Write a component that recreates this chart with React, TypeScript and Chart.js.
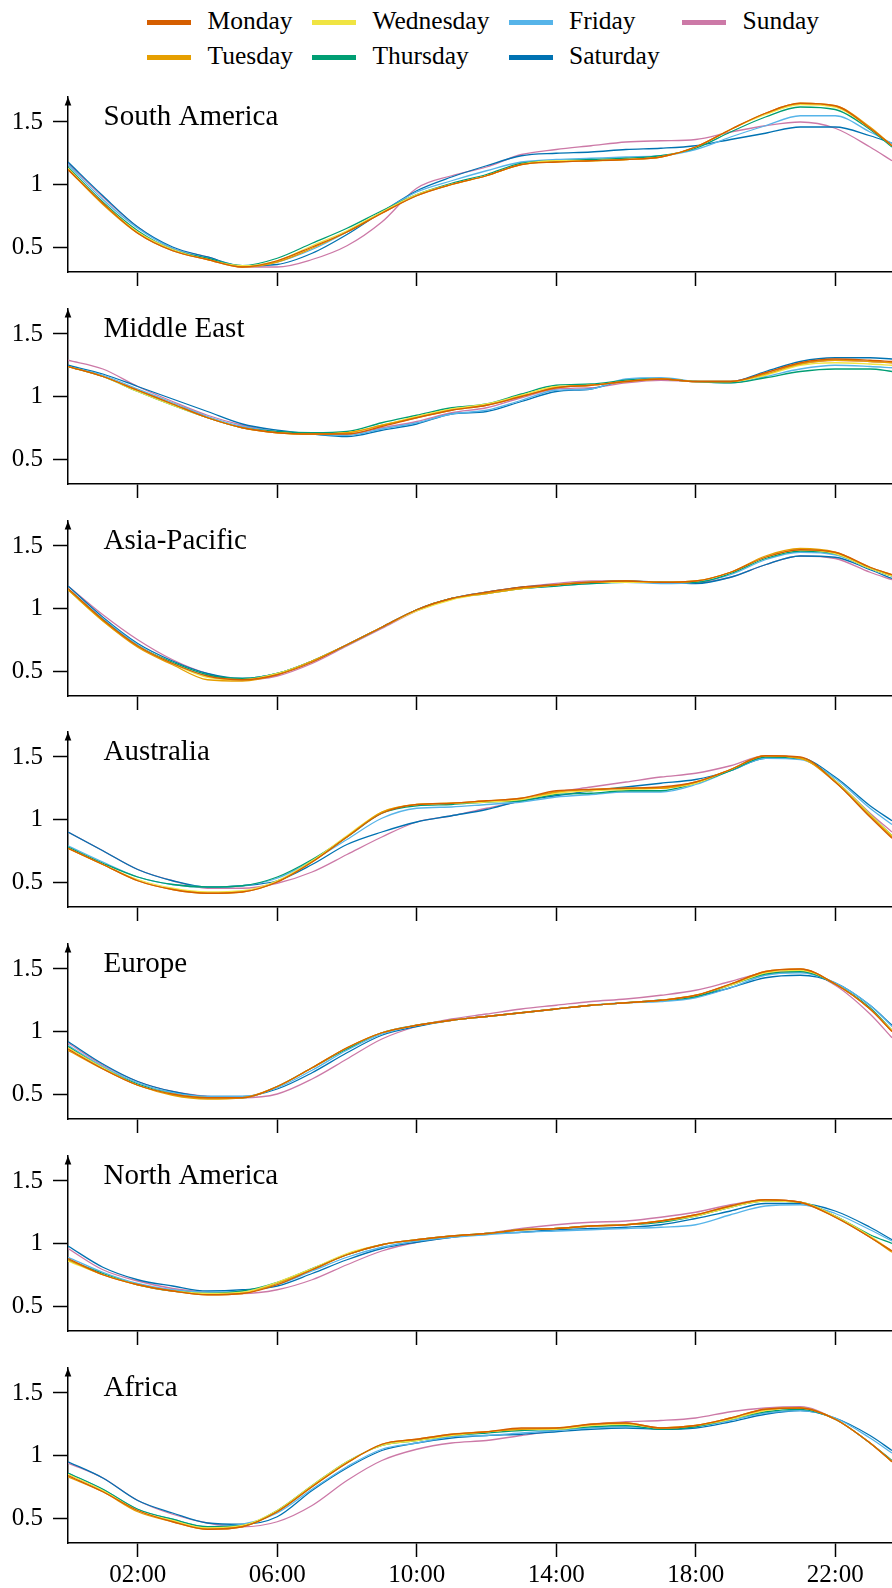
import React, { useEffect, useRef } from "react";
import { Chart, registerables } from "chart.js";

Chart.register(...registerables);

// ---------- data ----------
const DAYS = ["Monday", "Tuesday", "Wednesday", "Thursday", "Friday", "Saturday", "Sunday"];
const COLORS = ["#D55E00", "#E69F00", "#F0E442", "#009E73", "#56B4E9", "#0072B2", "#CC79A7"];
const REGIONS = ["South America", "Middle East", "Asia-Pacific", "Australia", "Europe", "North America", "Africa"];

const HOURS = [0, 1, 2, 3, 4, 5, 6, 7, 8, 9, 10, 11, 12, 13, 14, 15, 16, 17, 18, 19, 20, 21, 22, 23, 23.63];
const X_MAX = 23.63;
const X_TICKS = [2, 6, 10, 14, 18, 22];
const X_TICK_LABELS = ["02:00", "06:00", "10:00", "14:00", "18:00", "22:00"];
const Y_MIN = 0.3;
const Y_MAX = 1.7;
const Y_TICKS = [0.5, 1, 1.5];
const Y_TICK_LABELS = ["0.5", "1", "1.5"];

// South America
const SA_MON = [1.12, 0.85, 0.61, 0.47, 0.40, 0.34, 0.39, 0.50, 0.62, 0.77, 0.91, 1.00, 1.07, 1.16, 1.18, 1.19, 1.20, 1.22, 1.30, 1.44, 1.57, 1.65, 1.63, 1.45, 1.31];
const SA_TUE = [1.12, 0.84, 0.61, 0.47, 0.40, 0.34, 0.38, 0.49, 0.62, 0.77, 0.91, 1.00, 1.07, 1.16, 1.18, 1.19, 1.20, 1.22, 1.30, 1.44, 1.57, 1.65, 1.63, 1.46, 1.31];
const SA_WED = [1.13, 0.85, 0.62, 0.48, 0.40, 0.35, 0.39, 0.51, 0.63, 0.78, 0.92, 1.00, 1.07, 1.16, 1.19, 1.19, 1.20, 1.22, 1.30, 1.44, 1.56, 1.64, 1.62, 1.45, 1.31];
const SA_THU = [1.14, 0.86, 0.63, 0.48, 0.41, 0.35, 0.41, 0.53, 0.65, 0.79, 0.92, 1.01, 1.08, 1.17, 1.19, 1.20, 1.21, 1.23, 1.29, 1.42, 1.54, 1.62, 1.60, 1.44, 1.30];
const SA_FRI = [1.16, 0.88, 0.65, 0.49, 0.41, 0.35, 0.38, 0.48, 0.62, 0.78, 0.94, 1.03, 1.11, 1.18, 1.20, 1.21, 1.22, 1.23, 1.28, 1.38, 1.47, 1.55, 1.55, 1.42, 1.33];
const SA_SAT = [1.18, 0.91, 0.66, 0.50, 0.42, 0.35, 0.36, 0.45, 0.60, 0.78, 0.95, 1.06, 1.15, 1.23, 1.25, 1.26, 1.28, 1.29, 1.31, 1.36, 1.41, 1.46, 1.46, 1.39, 1.33];
const SA_SUN = [1.17, 0.90, 0.66, 0.49, 0.42, 0.34, 0.34, 0.40, 0.51, 0.70, 0.97, 1.07, 1.14, 1.24, 1.28, 1.31, 1.34, 1.35, 1.36, 1.42, 1.47, 1.50, 1.45, 1.30, 1.19];

// Middle East
const ME_MON = [1.24, 1.16, 1.05, 0.94, 0.83, 0.75, 0.71, 0.70, 0.70, 0.76, 0.83, 0.89, 0.93, 1.00, 1.07, 1.09, 1.12, 1.14, 1.12, 1.12, 1.19, 1.27, 1.30, 1.29, 1.28];
const ME_TUE = [1.24, 1.16, 1.05, 0.94, 0.83, 0.75, 0.71, 0.70, 0.71, 0.77, 0.83, 0.89, 0.93, 1.00, 1.07, 1.09, 1.12, 1.14, 1.12, 1.12, 1.18, 1.26, 1.29, 1.28, 1.27];
const ME_WED = [1.24, 1.16, 1.04, 0.93, 0.83, 0.75, 0.71, 0.70, 0.71, 0.77, 0.84, 0.90, 0.94, 1.01, 1.08, 1.09, 1.12, 1.14, 1.12, 1.12, 1.17, 1.25, 1.27, 1.26, 1.25];
const ME_THU = [1.24, 1.16, 1.04, 0.93, 0.83, 0.75, 0.72, 0.71, 0.72, 0.79, 0.85, 0.91, 0.94, 1.02, 1.09, 1.10, 1.13, 1.14, 1.12, 1.11, 1.15, 1.20, 1.22, 1.22, 1.20];
const ME_FRI = [1.24, 1.17, 1.06, 0.95, 0.84, 0.76, 0.72, 0.70, 0.69, 0.74, 0.79, 0.86, 0.89, 0.97, 1.05, 1.06, 1.14, 1.15, 1.12, 1.11, 1.16, 1.22, 1.25, 1.24, 1.23];
const ME_SAT = [1.25, 1.18, 1.08, 0.98, 0.88, 0.78, 0.73, 0.70, 0.68, 0.73, 0.78, 0.86, 0.88, 0.96, 1.04, 1.06, 1.13, 1.14, 1.12, 1.12, 1.20, 1.28, 1.31, 1.31, 1.30];
const ME_SUN = [1.29, 1.22, 1.08, 0.96, 0.85, 0.77, 0.72, 0.70, 0.70, 0.75, 0.80, 0.87, 0.91, 0.99, 1.06, 1.07, 1.11, 1.13, 1.12, 1.12, 1.19, 1.26, 1.29, 1.28, 1.27];

// Asia-Pacific
const AP_MON = [1.16, 0.91, 0.70, 0.56, 0.46, 0.43, 0.47, 0.57, 0.71, 0.85, 0.99, 1.08, 1.13, 1.17, 1.19, 1.21, 1.22, 1.21, 1.22, 1.29, 1.41, 1.47, 1.45, 1.33, 1.27];
const AP_TUE = [1.15, 0.90, 0.69, 0.55, 0.43, 0.42, 0.47, 0.58, 0.71, 0.85, 0.99, 1.08, 1.12, 1.16, 1.19, 1.21, 1.22, 1.21, 1.22, 1.29, 1.42, 1.48, 1.45, 1.33, 1.27];
const AP_WED = [1.15, 0.90, 0.70, 0.56, 0.45, 0.43, 0.48, 0.58, 0.71, 0.85, 0.98, 1.07, 1.12, 1.16, 1.19, 1.21, 1.21, 1.21, 1.22, 1.29, 1.41, 1.47, 1.44, 1.32, 1.26];
const AP_THU = [1.15, 0.91, 0.70, 0.57, 0.47, 0.44, 0.48, 0.58, 0.71, 0.85, 0.99, 1.08, 1.12, 1.16, 1.18, 1.20, 1.21, 1.21, 1.21, 1.28, 1.40, 1.46, 1.44, 1.32, 1.26];
const AP_FRI = [1.16, 0.92, 0.71, 0.56, 0.46, 0.44, 0.48, 0.58, 0.71, 0.85, 0.99, 1.08, 1.13, 1.16, 1.18, 1.20, 1.21, 1.20, 1.21, 1.27, 1.39, 1.45, 1.43, 1.32, 1.26];
const AP_SAT = [1.18, 0.93, 0.72, 0.58, 0.48, 0.44, 0.48, 0.58, 0.71, 0.85, 0.99, 1.08, 1.13, 1.17, 1.19, 1.21, 1.22, 1.21, 1.20, 1.25, 1.35, 1.42, 1.41, 1.31, 1.24];
const AP_SUN = [1.18, 0.95, 0.75, 0.59, 0.48, 0.43, 0.46, 0.56, 0.70, 0.84, 0.98, 1.08, 1.13, 1.17, 1.20, 1.22, 1.22, 1.21, 1.21, 1.25, 1.35, 1.42, 1.40, 1.29, 1.23];

// Australia
const AU_MON = [0.77, 0.64, 0.51, 0.44, 0.41, 0.42, 0.50, 0.66, 0.86, 1.05, 1.12, 1.13, 1.15, 1.17, 1.23, 1.24, 1.25, 1.26, 1.30, 1.40, 1.51, 1.50, 1.30, 1.02, 0.85];
const AU_TUE = [0.77, 0.64, 0.51, 0.44, 0.41, 0.42, 0.50, 0.66, 0.86, 1.06, 1.12, 1.13, 1.15, 1.17, 1.22, 1.24, 1.25, 1.25, 1.30, 1.40, 1.51, 1.49, 1.30, 1.03, 0.86];
const AU_WED = [0.77, 0.64, 0.52, 0.45, 0.42, 0.43, 0.51, 0.67, 0.87, 1.06, 1.12, 1.13, 1.14, 1.16, 1.21, 1.23, 1.24, 1.25, 1.29, 1.40, 1.51, 1.49, 1.31, 1.04, 0.87];
const AU_THU = [0.78, 0.65, 0.54, 0.48, 0.46, 0.47, 0.54, 0.68, 0.86, 1.05, 1.11, 1.12, 1.14, 1.15, 1.20, 1.21, 1.23, 1.23, 1.29, 1.39, 1.50, 1.49, 1.31, 1.04, 0.87];
const AU_FRI = [0.79, 0.66, 0.54, 0.48, 0.46, 0.47, 0.53, 0.67, 0.84, 1.01, 1.09, 1.10, 1.12, 1.14, 1.18, 1.20, 1.22, 1.22, 1.28, 1.39, 1.49, 1.48, 1.33, 1.09, 0.96];
const AU_SAT = [0.90, 0.75, 0.60, 0.51, 0.46, 0.47, 0.51, 0.64, 0.80, 0.90, 0.98, 1.03, 1.08, 1.15, 1.19, 1.23, 1.26, 1.29, 1.32, 1.39, 1.49, 1.49, 1.34, 1.11, 0.99];
const AU_SUN = [0.90, 0.75, 0.60, 0.51, 0.45, 0.45, 0.49, 0.58, 0.72, 0.86, 0.98, 1.03, 1.09, 1.15, 1.22, 1.26, 1.30, 1.34, 1.37, 1.43, 1.51, 1.49, 1.31, 1.05, 0.90];

// Europe
const EU_MON = [0.86, 0.70, 0.57, 0.50, 0.47, 0.47, 0.56, 0.71, 0.87, 0.99, 1.05, 1.09, 1.12, 1.15, 1.18, 1.21, 1.23, 1.25, 1.29, 1.38, 1.48, 1.50, 1.38, 1.18, 1.00];
const EU_TUE = [0.85, 0.70, 0.57, 0.49, 0.46, 0.47, 0.56, 0.71, 0.87, 0.99, 1.05, 1.09, 1.12, 1.15, 1.18, 1.21, 1.23, 1.25, 1.29, 1.38, 1.48, 1.50, 1.38, 1.18, 1.00];
const EU_WED = [0.87, 0.71, 0.57, 0.50, 0.47, 0.47, 0.56, 0.71, 0.87, 0.99, 1.05, 1.09, 1.12, 1.15, 1.18, 1.21, 1.23, 1.25, 1.29, 1.37, 1.47, 1.49, 1.38, 1.18, 1.01];
const EU_THU = [0.88, 0.71, 0.58, 0.50, 0.47, 0.47, 0.56, 0.71, 0.86, 0.99, 1.05, 1.09, 1.12, 1.15, 1.18, 1.21, 1.23, 1.25, 1.28, 1.37, 1.46, 1.48, 1.38, 1.19, 1.01];
const EU_FRI = [0.89, 0.72, 0.59, 0.51, 0.48, 0.48, 0.55, 0.69, 0.85, 0.98, 1.05, 1.09, 1.12, 1.15, 1.18, 1.21, 1.23, 1.24, 1.27, 1.35, 1.45, 1.47, 1.39, 1.21, 1.04];
const EU_SAT = [0.92, 0.74, 0.60, 0.52, 0.48, 0.48, 0.54, 0.67, 0.83, 0.97, 1.04, 1.09, 1.12, 1.15, 1.18, 1.21, 1.23, 1.25, 1.28, 1.35, 1.43, 1.45, 1.39, 1.21, 1.05];
const EU_SUN = [0.91, 0.73, 0.60, 0.52, 0.48, 0.47, 0.50, 0.62, 0.78, 0.94, 1.04, 1.10, 1.14, 1.18, 1.21, 1.24, 1.26, 1.29, 1.33, 1.40, 1.47, 1.48, 1.37, 1.14, 0.95];

// North America
const NA_MON = [0.88, 0.75, 0.67, 0.62, 0.59, 0.60, 0.67, 0.79, 0.91, 0.99, 1.03, 1.06, 1.08, 1.11, 1.12, 1.14, 1.15, 1.18, 1.23, 1.30, 1.35, 1.33, 1.21, 1.05, 0.94];
const NA_TUE = [0.87, 0.75, 0.67, 0.62, 0.59, 0.60, 0.68, 0.79, 0.91, 0.99, 1.03, 1.06, 1.08, 1.11, 1.12, 1.14, 1.15, 1.18, 1.23, 1.30, 1.35, 1.33, 1.21, 1.05, 0.93];
const NA_WED = [0.86, 0.75, 0.67, 0.62, 0.60, 0.61, 0.69, 0.80, 0.92, 0.99, 1.03, 1.06, 1.08, 1.11, 1.12, 1.14, 1.15, 1.18, 1.22, 1.29, 1.34, 1.33, 1.22, 1.06, 0.94];
const NA_THU = [0.87, 0.76, 0.67, 0.62, 0.60, 0.62, 0.69, 0.80, 0.91, 0.99, 1.03, 1.06, 1.08, 1.11, 1.12, 1.14, 1.15, 1.17, 1.22, 1.29, 1.34, 1.33, 1.22, 1.07, 1.00];
const NA_FRI = [0.89, 0.77, 0.68, 0.63, 0.61, 0.62, 0.67, 0.78, 0.89, 0.97, 1.02, 1.05, 1.07, 1.09, 1.10, 1.11, 1.12, 1.13, 1.15, 1.23, 1.30, 1.31, 1.24, 1.11, 1.02];
const NA_SAT = [0.98, 0.81, 0.71, 0.66, 0.62, 0.63, 0.66, 0.76, 0.87, 0.96, 1.01, 1.05, 1.08, 1.09, 1.11, 1.12, 1.13, 1.15, 1.20, 1.26, 1.32, 1.32, 1.26, 1.13, 1.03];
const NA_SUN = [0.96, 0.79, 0.70, 0.64, 0.61, 0.60, 0.63, 0.71, 0.83, 0.94, 1.01, 1.05, 1.08, 1.12, 1.15, 1.17, 1.18, 1.21, 1.25, 1.31, 1.35, 1.33, 1.22, 1.05, 0.94];

// Africa
const AF_MON = [0.84, 0.71, 0.56, 0.47, 0.41, 0.43, 0.55, 0.75, 0.94, 1.09, 1.13, 1.17, 1.19, 1.22, 1.22, 1.25, 1.26, 1.22, 1.24, 1.30, 1.37, 1.38, 1.29, 1.10, 0.95];
const AF_TUE = [0.83, 0.71, 0.55, 0.47, 0.41, 0.43, 0.55, 0.75, 0.94, 1.09, 1.13, 1.17, 1.19, 1.21, 1.22, 1.25, 1.26, 1.22, 1.24, 1.30, 1.37, 1.38, 1.29, 1.10, 0.95];
const AF_WED = [0.85, 0.72, 0.56, 0.48, 0.42, 0.44, 0.56, 0.76, 0.95, 1.08, 1.12, 1.16, 1.19, 1.21, 1.21, 1.24, 1.25, 1.22, 1.24, 1.29, 1.36, 1.38, 1.29, 1.10, 0.95];
const AF_THU = [0.86, 0.73, 0.57, 0.49, 0.43, 0.44, 0.56, 0.76, 0.95, 1.08, 1.12, 1.16, 1.18, 1.20, 1.21, 1.23, 1.24, 1.21, 1.23, 1.29, 1.35, 1.37, 1.29, 1.10, 0.96];
const AF_FRI = [0.86, 0.73, 0.57, 0.49, 0.43, 0.45, 0.54, 0.73, 0.91, 1.05, 1.10, 1.15, 1.16, 1.18, 1.20, 1.22, 1.23, 1.22, 1.23, 1.28, 1.34, 1.36, 1.30, 1.14, 1.02];
const AF_SAT = [0.95, 0.82, 0.64, 0.54, 0.46, 0.45, 0.51, 0.72, 0.90, 1.04, 1.10, 1.14, 1.16, 1.17, 1.19, 1.21, 1.22, 1.21, 1.22, 1.27, 1.33, 1.36, 1.30, 1.16, 1.04];
const AF_SUN = [0.94, 0.82, 0.64, 0.53, 0.46, 0.43, 0.47, 0.60, 0.80, 0.96, 1.05, 1.10, 1.12, 1.16, 1.20, 1.25, 1.27, 1.28, 1.30, 1.35, 1.38, 1.39, 1.29, 1.10, 0.95];

const PANEL_SERIES = [
  [SA_MON, SA_TUE, SA_WED, SA_THU, SA_FRI, SA_SAT, SA_SUN],
  [ME_MON, ME_TUE, ME_WED, ME_THU, ME_FRI, ME_SAT, ME_SUN],
  [AP_MON, AP_TUE, AP_WED, AP_THU, AP_FRI, AP_SAT, AP_SUN],
  [AU_MON, AU_TUE, AU_WED, AU_THU, AU_FRI, AU_SAT, AU_SUN],
  [EU_MON, EU_TUE, EU_WED, EU_THU, EU_FRI, EU_SAT, EU_SUN],
  [NA_MON, NA_TUE, NA_WED, NA_THU, NA_FRI, NA_SAT, NA_SUN],
  [AF_MON, AF_TUE, AF_WED, AF_THU, AF_FRI, AF_SAT, AF_SUN],
];

// ---------- layout ----------
const FONT = "'Liberation Serif', 'Times New Roman', serif";
const W = 892;
const PANEL_PITCH = 211.8;
const FIRST_TOP = 60;
const PAD_TOP = 37;
const AREA_H = 175;
const Y_AXIS_W = 68;

const panelDecor = {
  id: "panelDecor",
  afterDraw(chart: any, _args: any, opts: any) {
    const { ctx, chartArea } = chart;
    ctx.save();
    ctx.fillStyle = "#000";
    const x = chartArea.left;
    const top = chartArea.top;
    ctx.beginPath();
    ctx.moveTo(x, top);
    ctx.lineTo(x - 3.3, top + 8.5);
    ctx.lineTo(x + 3.3, top + 8.5);
    ctx.closePath();
    ctx.fill();
    ctx.font = `29px ${FONT}`;
    ctx.textBaseline = "alphabetic";
    ctx.textAlign = "left";
    ctx.fillText(opts.title, x + 35.5, top + 27.5);
    ctx.restore();
  },
};

function Panel({ index }: { index: number }) {
  const ref = useRef<HTMLCanvasElement | null>(null);
  const isLast = index === PANEL_SERIES.length - 1;
  const top = Math.round(FIRST_TOP + PANEL_PITCH * index);
  const height = isLast ? 257 : 240;
  const xH = height - PAD_TOP - AREA_H;

  useEffect(() => {
    if (!ref.current) return;
    const series = PANEL_SERIES[index];
    const datasets = series.map((vals, d) => ({
      label: DAYS[d],
      data: HOURS.map((h, i) => ({ x: h, y: vals[i] })),
      borderColor: COLORS[d],
      backgroundColor: COLORS[d],
      borderWidth: 1.3,
      pointRadius: 0,
      fill: false,
      cubicInterpolationMode: "monotone" as const,
    }));
    const tickFont = { family: FONT, size: 25 };
    const chart = new Chart(ref.current, {
      type: "line",
      data: { datasets },
      plugins: [panelDecor],
      options: {
        responsive: false,
        animation: false,
        devicePixelRatio: 1,
        events: [],
        layout: { padding: { top: PAD_TOP, left: 0, right: 0, bottom: 0 }, autoPadding: false },
        plugins: {
          legend: { display: false },
          tooltip: { enabled: false },
          // @ts-ignore
          panelDecor: { title: REGIONS[index] },
        },
        scales: {
          x: {
            type: "linear",
            min: 0,
            max: X_MAX,
            afterBuildTicks: (s: any) => {
              s.ticks = X_TICKS.map((v) => ({ value: v }));
            },
            afterFit: (s: any) => {
              s.height = xH;
            },
            ticks: {
              display: isLast,
              autoSkip: false,
              maxRotation: 0,
              padding: 3,
              color: "#000",
              font: tickFont,
              callback: (_v: any, i: number) => X_TICK_LABELS[i],
            },
            grid: {
              display: true,
              drawOnChartArea: false,
              drawTicks: true,
              tickLength: 14,
              tickWidth: 1.5,
              tickColor: "#000",
              color: "#000",
            },
            border: { display: true, color: "#000", width: 1.5 },
          },
          y: {
            type: "linear",
            min: Y_MIN,
            max: Y_MAX,
            afterBuildTicks: (s: any) => {
              s.ticks = Y_TICKS.map((v) => ({ value: v }));
            },
            afterFit: (s: any) => {
              s.width = Y_AXIS_W;
            },
            ticks: {
              autoSkip: false,
              padding: 10,
              color: "#000",
              font: tickFont,
              callback: (_v: any, i: number) => Y_TICK_LABELS[i],
            },
            grid: {
              display: true,
              drawOnChartArea: false,
              drawTicks: true,
              tickLength: 15,
              tickWidth: 1.5,
              tickColor: "#000",
              color: "#000",
            },
            border: { display: true, color: "#000", width: 1.5 },
          },
        },
      } as any,
    });
    return () => chart.destroy();
  }, [index]);

  return (
    <canvas
      ref={ref}
      width={W}
      height={height}
      style={{ position: "absolute", left: 0, top, width: W, height }}
    />
  );
}

const LEGEND_COL_X = [147, 312, 508.5, 682];

function Legend() {
  return (
    <>
      {DAYS.map((day, i) => {
        const col = Math.floor(i / 2);
        const row = i % 2;
        const x = LEGEND_COL_X[col];
        return (
          <React.Fragment key={day}>
            <div
              style={{
                position: "absolute",
                left: x,
                top: row === 0 ? 20 : 55,
                width: 44,
                height: 5,
                background: COLORS[i],
              }}
            />
            <div
              style={{
                position: "absolute",
                left: x + 60.5,
                top: row === 0 ? 5.7 : 40.7,
                fontFamily: FONT,
                fontSize: 25.5,
                lineHeight: "30px",
                color: "#000",
                whiteSpace: "nowrap",
              }}
            >
              {day}
            </div>
          </React.Fragment>
        );
      })}
    </>
  );
}

export default function App() {
  return (
    <div
      style={{
        position: "absolute",
        left: 0,
        top: 0,
        width: W,
        height: 1588,
        background: "#fff",
        overflow: "hidden",
      }}
    >
      <Legend />
      {PANEL_SERIES.map((_, i) => (
        <Panel key={i} index={i} />
      ))}
    </div>
  );
}
